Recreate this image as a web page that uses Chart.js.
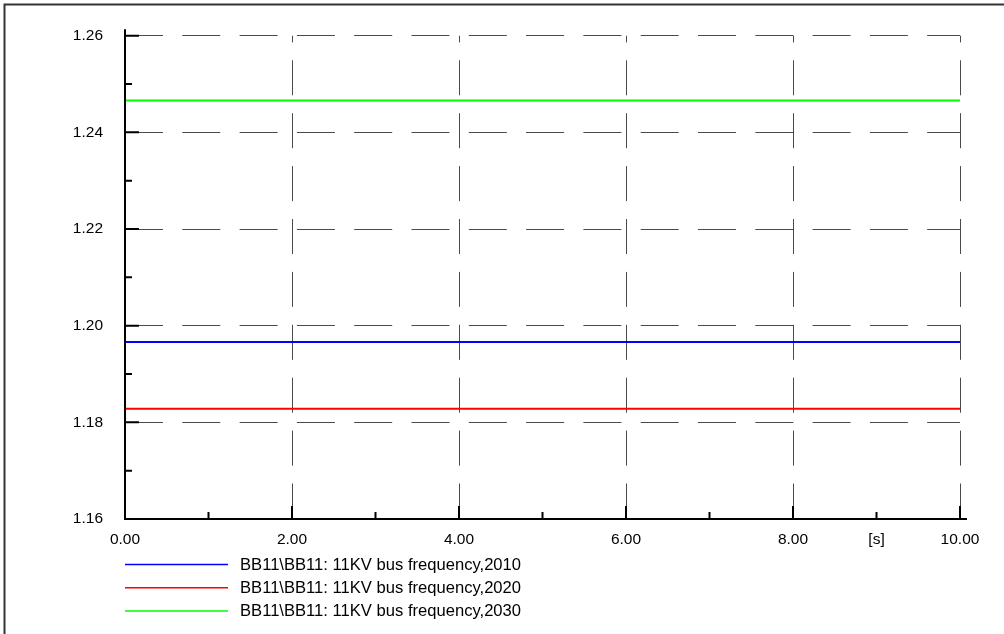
<!DOCTYPE html>
<html>
<head>
<meta charset="utf-8">
<script src="https://cdn.jsdelivr.net/npm/chart.js@4.4.1/dist/chart.umd.min.js"></script>
<style>
html,body{margin:0;padding:0;background:#fff;overflow:hidden}
#wrap{position:relative;width:1004px;height:634px}
</style>
</head>
<body>
<div id="wrap"><canvas id="c" width="1004" height="634"></canvas></div>
<script>
// ---- data ----
const timeS = [0, 1, 2, 3, 4, 5, 6, 7, 8, 9, 10];
const freq2010 = [1.1966, 1.1966, 1.1966, 1.1966, 1.1966, 1.1966, 1.1966, 1.1966, 1.1966, 1.1966, 1.1966];
const freq2020 = [1.1828, 1.1828, 1.1828, 1.1828, 1.1828, 1.1828, 1.1828, 1.1828, 1.1828, 1.1828, 1.1828];
const freq2030 = [1.2466, 1.2466, 1.2466, 1.2466, 1.2466, 1.2466, 1.2466, 1.2466, 1.2466, 1.2466, 1.2466];
const seriesLabels = [
  'BB11\\BB11: 11KV bus frequency,2010',
  'BB11\\BB11: 11KV bus frequency,2020',
  'BB11\\BB11: 11KV bus frequency,2030'
];
const seriesColors = ['#0000ff', '#ff0000', '#00ff00'];
const yMajorTicks = [1.16, 1.18, 1.20, 1.22, 1.24, 1.26];
const yMinorTicks = [1.17, 1.19, 1.21, 1.23, 1.25];
const xMajorTicks = [0, 2, 4, 6, 8, 10];
const xMinorTicks = [1, 3, 5, 7, 9];
const xTickValues = [0, 1, 2, 3, 4, 5, 6, 7, 8, 9, 10];
const xTickLabels = {0: '0.00', 2: '2.00', 4: '4.00', 6: '6.00', 8: '8.00', 9: '[s]', 10: '10.00'};

const FONT = "'Liberation Sans', Arial, sans-serif";

function toPoints(xs, ys) { return xs.map((x, i) => ({x: x, y: ys[i]})); }

const decoPlugin = {
  id: 'deco',
  afterDraw(chart) {
    const ctx = chart.ctx;
    const a = chart.chartArea;
    const xs = chart.scales.x, ys = chart.scales.y;
    ctx.save();
    // outer frame (left + top)
    ctx.strokeStyle = '#333';
    ctx.lineWidth = 2;
    ctx.beginPath();
    ctx.moveTo(4.5, 634); ctx.lineTo(4.5, 4.5); ctx.lineTo(1004, 4.5);
    ctx.stroke();
    // axes
    ctx.strokeStyle = '#000';
    ctx.lineWidth = 2;
    ctx.beginPath();
    ctx.moveTo(a.left, a.top - 6.5);
    ctx.lineTo(a.left, a.bottom);
    ctx.lineTo(a.right + 7, a.bottom);
    ctx.stroke();
    // inward tick marks
    ctx.lineWidth = 2;
    ctx.beginPath();
    yMajorTicks.forEach(v => { const p = ys.getPixelForValue(v); ctx.moveTo(a.left, p); ctx.lineTo(a.left + 14, p); });
    yMinorTicks.forEach(v => { const p = ys.getPixelForValue(v); ctx.moveTo(a.left, p); ctx.lineTo(a.left + 7, p); });
    xMajorTicks.forEach(v => { const p = xs.getPixelForValue(v); ctx.moveTo(p, a.bottom); ctx.lineTo(p, a.bottom - 13); });
    xMinorTicks.forEach(v => { const p = xs.getPixelForValue(v); ctx.moveTo(p, a.bottom); ctx.lineTo(p, a.bottom - 7); });
    ctx.stroke();
    // legend
    ctx.font = '16.6px ' + FONT;
    ctx.textBaseline = 'middle';
    ctx.textAlign = 'left';
    chart.data.datasets.forEach((ds, i) => {
      const yy = a.bottom + 45.5 + i * 23.2;
      ctx.strokeStyle = ds.borderColor;
      ctx.lineWidth = 1.5;
      ctx.beginPath();
      ctx.moveTo(a.left, yy); ctx.lineTo(a.left + 103, yy);
      ctx.stroke();
      ctx.fillStyle = '#000';
      ctx.fillText(ds.label, a.left + 115, yy + 0.5);
    });
    ctx.restore();
  }
};

new Chart(document.getElementById('c'), {
  type: 'line',
  data: {
    datasets: [
      {label: seriesLabels[0], data: toPoints(timeS, freq2010), borderColor: seriesColors[0], borderWidth: 2, pointRadius: 0, tension: 0, fill: false},
      {label: seriesLabels[1], data: toPoints(timeS, freq2020), borderColor: seriesColors[1], borderWidth: 2, pointRadius: 0, tension: 0, fill: false},
      {label: seriesLabels[2], data: toPoints(timeS, freq2030), borderColor: seriesColors[2], borderWidth: 2, pointRadius: 0, tension: 0, fill: false}
    ]
  },
  options: {
    responsive: false,
    animation: false,
    devicePixelRatio: 1,
    layout: {padding: {left: 0, top: 35.7, right: 44, bottom: 0}},
    plugins: {legend: {display: false}, tooltip: {enabled: false}},
    scales: {
      x: {
        type: 'linear', min: 0, max: 10, position: 'bottom',
        afterBuildTicks: s => { s.ticks = xTickValues.map(v => ({value: v})); },
        afterFit: s => { s.height = 115; },
        ticks: {
          autoSkip: false, maxRotation: 0, minRotation: 0, padding: 11,
          color: '#000', font: {family: FONT, size: 15.5},
          callback: v => (xTickLabels[v] !== undefined ? xTickLabels[v] : '')
        },
        grid: {
          drawTicks: false, lineWidth: 1,
          color: c => (c.tick && xMajorTicks.includes(c.tick.value) ? '#4a4a4a' : 'rgba(0,0,0,0)')
        },
        border: {display: false, dash: [35, 17.9], dashOffset: 28.3}
      },
      y: {
        type: 'linear', min: 1.16, max: 1.26,
        afterBuildTicks: s => { s.ticks = yMajorTicks.map(v => ({value: v})); },
        afterFit: s => { s.width = 125; },
        ticks: {
          padding: 22, color: '#000', font: {family: FONT, size: 15.5},
          callback: v => Number(v).toFixed(2)
        },
        grid: {drawTicks: false, lineWidth: 1, color: '#4a4a4a'},
        border: {display: false, dash: [38, 19.3], dashOffset: 0}
      }
    }
  },
  plugins: [decoPlugin]
});
</script>
</body>
</html>
